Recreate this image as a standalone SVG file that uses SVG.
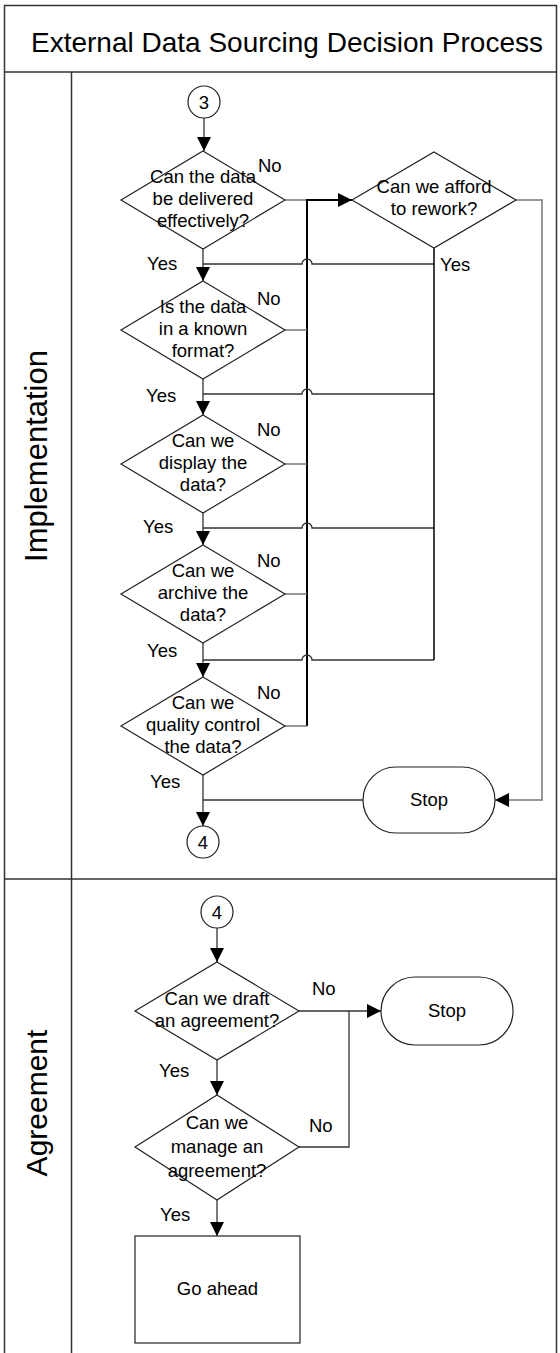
<svg xmlns="http://www.w3.org/2000/svg" width="560" height="1353" viewBox="0 0 560 1353">
<style>
text{font-family:"Liberation Sans",Arial,sans-serif;fill:#000}
.t{font-size:18.5px}
.c{text-anchor:middle}
.lane{fill:none;stroke:#333;stroke-width:1.5}
.shape{fill:#fff;stroke:#222;stroke-width:1.2}
.ln{fill:none;stroke:#333;stroke-width:1.3}
.gr{fill:none;stroke:#777;stroke-width:1.5}
.bk{fill:none;stroke:#000;stroke-width:2}
</style>
<defs>
<marker id="ar" markerUnits="userSpaceOnUse" markerWidth="14" markerHeight="14" viewBox="0 0 12 12" refX="12" refY="6" orient="auto">
<path d="M0,0 L12,6 L0,12 Z" fill="#000"/>
</marker>
</defs>
<rect width="560" height="1353" fill="#fff"/>
<g id="pool">
<path class="lane" d="M4.5,1353 V5.5 H556.5 V1353"/>
<path class="lane" d="M4.5,72 H556.5 M4.5,879 H556.5 M71.5,72 V1353"/>
<text x="287" y="52" font-size="28" class="c">External Data Sourcing Decision Process</text>
</g>
<g id="lane-implementation"><text transform="translate(47,456) rotate(-90)" font-size="31" class="c">Implementation</text></g>
<g id="lane-agreement"><text transform="translate(47,1103) rotate(-90)" font-size="30" class="c">Agreement</text></g>

<g id="connectors">
<path class="ln" d="M204,118 V151" marker-end="url(#ar)"/>
<path class="gr" d="M285,200 H307"/>
<path class="bk" d="M307,726 V200 H352" marker-end="url(#ar)"/>
<path class="gr" d="M285,330 H307 M285,464 H307 M285,594 H307 M285,726 H307"/>
<path class="ln" d="M434,264 H312 A5,5 0 0 0 302,264 H203"/>
<path class="ln" d="M434,394 H312 A5,5 0 0 0 302,394 H203"/>
<path class="ln" d="M434,528 H312 A5,5 0 0 0 302,528 H203"/>
<path class="ln" d="M434,660 H312 A5,5 0 0 0 302,660 H203"/>
<path class="ln" d="M203,249 V281" marker-end="url(#ar)"/>
<path class="ln" d="M203,379 V415" marker-end="url(#ar)"/>
<path class="ln" d="M203,513 V545" marker-end="url(#ar)"/>
<path class="ln" d="M203,643 V677" marker-end="url(#ar)"/>
<path class="ln" d="M203,775 V826" marker-end="url(#ar)"/>
<path class="bk" d="M434,248 V660" style="stroke-width:1.5"/>
<path class="gr" d="M516,200 H542 V800 H495" marker-end="url(#ar)"/>
<path class="ln" d="M363,800 H203"/>
<path class="ln" d="M217,928 V962" marker-end="url(#ar)"/>
<path class="ln" d="M299,1011 H381" marker-end="url(#ar)"/>
<path class="ln" d="M299,1147 H349 V1011"/>
<path class="ln" d="M217,1060 V1095" marker-end="url(#ar)"/>
<path class="ln" d="M217,1200 V1236" marker-end="url(#ar)"/>
<text x="147" y="270" class="t">Yes</text>
<text x="440" y="271" class="t">Yes</text>
<text x="146" y="402" class="t">Yes</text>
<text x="143" y="533" class="t">Yes</text>
<text x="147" y="657" class="t">Yes</text>
<text x="150" y="788" class="t">Yes</text>
<text x="159" y="1077" class="t">Yes</text>
<text x="160" y="1221" class="t">Yes</text>
<text x="258" y="172" class="t">No</text>
<text x="257" y="305" class="t">No</text>
<text x="257" y="436" class="t">No</text>
<text x="257" y="567" class="t">No</text>
<text x="257" y="699" class="t">No</text>
<text x="312" y="995" class="t">No</text>
<text x="309" y="1132" class="t">No</text>
</g>

<g id="conn3"><circle class="shape" cx="204" cy="102" r="16"/><text x="204" y="108.5" class="t c">3</text></g>
<g id="d1"><path class="shape" d="M203,151 L285,200 L203,249 L121,200 Z"/>
<text x="203" y="183" class="t c">Can the data</text><text x="203" y="205" class="t c">be delivered</text><text x="203" y="227" class="t c">effectively?</text></g>
<g id="d-afford"><path class="shape" d="M434,152 L516,200 L434,248 L352,200 Z"/>
<text x="434" y="193" class="t c">Can we afford</text><text x="434" y="215" class="t c">to rework?</text></g>
<g id="d2"><path class="shape" d="M203,281 L285,330 L203,379 L121,330 Z"/>
<text x="203" y="313" class="t c">Is the data</text><text x="203" y="335" class="t c">in a known</text><text x="203" y="357" class="t c">format?</text></g>
<g id="d3"><path class="shape" d="M203,415 L285,464 L203,513 L121,464 Z"/>
<text x="203" y="447" class="t c">Can we</text><text x="203" y="469" class="t c">display the</text><text x="203" y="491" class="t c">data?</text></g>
<g id="d4"><path class="shape" d="M203,545 L285,594 L203,643 L121,594 Z"/>
<text x="203" y="577" class="t c">Can we</text><text x="203" y="599" class="t c">archive the</text><text x="203" y="621" class="t c">data?</text></g>
<g id="d5"><path class="shape" d="M203,677 L285,726 L203,775 L121,726 Z"/>
<text x="203" y="709" class="t c">Can we</text><text x="203" y="731" class="t c">quality control</text><text x="203" y="753" class="t c">the data?</text></g>
<g id="stop1"><rect class="shape" x="363" y="767" width="132" height="66" rx="33"/><text x="429" y="806" class="t c">Stop</text></g>
<g id="conn4a"><circle class="shape" cx="203" cy="842" r="16"/><text x="203" y="848.5" class="t c">4</text></g>

<g id="conn4b"><circle class="shape" cx="217" cy="912" r="16"/><text x="217" y="918.5" class="t c">4</text></g>
<g id="d6"><path class="shape" d="M217,962 L299,1011 L217,1060 L135,1011 Z"/>
<text x="217" y="1005" class="t c">Can we draft</text><text x="217" y="1027" class="t c">an agreement?</text></g>
<g id="stop2"><rect class="shape" x="381" y="977" width="132" height="68" rx="34"/><text x="447" y="1017" class="t c">Stop</text></g>
<g id="d7"><path class="shape" d="M217,1095 L299,1147 L217,1200 L135,1147 Z"/>
<text x="217" y="1129" class="t c">Can we</text><text x="217" y="1153" class="t c">manage an</text><text x="217" y="1177" class="t c">agreement?</text></g>
<g id="goahead"><rect class="shape" x="135" y="1236" width="165" height="107"/><text x="217.5" y="1295" class="t c">Go ahead</text></g>
</svg>
